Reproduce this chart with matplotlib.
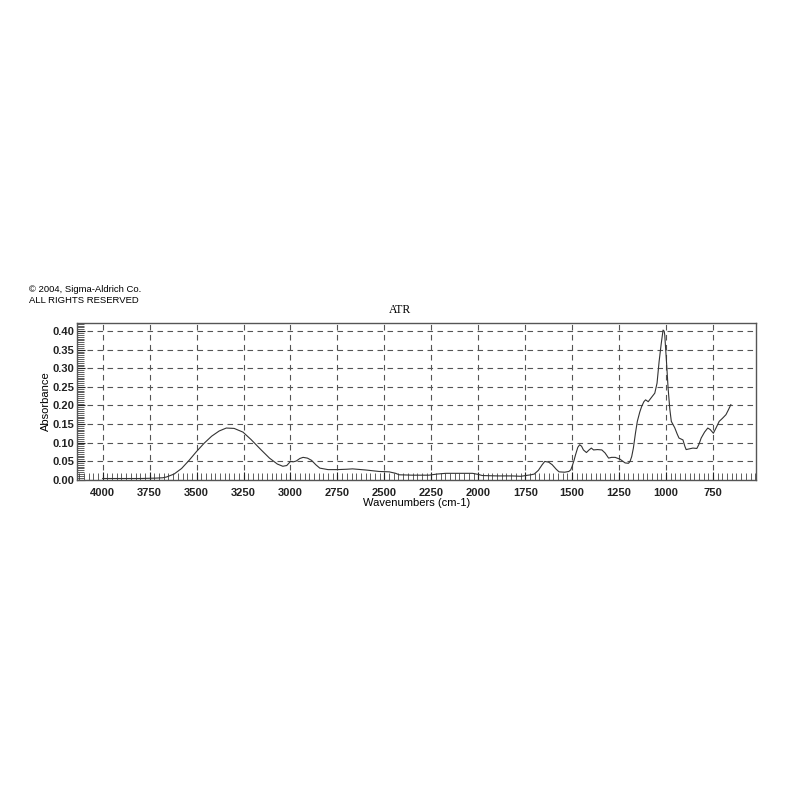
import matplotlib
matplotlib.use("Agg")
import matplotlib.pyplot as plt
from matplotlib.ticker import MultipleLocator, FormatStrFormatter

wavenumber = [4000, 3900, 3800, 3720, 3680, 3661, 3620, 3580, 3540, 3500, 3460, 3420, 3380,
              3342, 3300, 3253, 3210, 3160, 3112, 3070, 3041, 3020, 3000, 2985, 2970, 2950,
              2933, 2910, 2888, 2865, 2844, 2800, 2750, 2700, 2670, 2600, 2528, 2475, 2440,
              2421, 2350, 2262, 2220, 2173, 2100, 2031, 2000, 1978, 1900, 1819, 1773, 1748,
              1720, 1702, 1680, 1660, 1646, 1625, 1606, 1585, 1570, 1540, 1518, 1508, 1500,
              1490, 1482, 1470, 1460, 1450, 1440, 1424, 1410, 1398, 1386, 1365, 1342, 1325,
              1306, 1290, 1271, 1245, 1218, 1200, 1192, 1183, 1174, 1163, 1153, 1140, 1130,
              1118, 1109, 1095, 1080, 1060, 1048, 1037, 1026, 1016, 1010, 1007, 998, 989,
              980, 972, 954, 940, 931, 910, 900, 893, 875, 857, 836, 825, 813, 795, 778,
              765, 748, 735, 717, 700, 681, 668, 655]
absorbance = [0.003, 0.003, 0.003, 0.004, 0.005, 0.007, 0.015, 0.030, 0.052, 0.076, 0.098, 0.117,
              0.131, 0.139, 0.138, 0.128, 0.108, 0.082, 0.058, 0.042, 0.036, 0.038, 0.049, 0.048,
              0.050, 0.057, 0.060, 0.058, 0.052, 0.040, 0.031, 0.027, 0.027, 0.028, 0.029, 0.026,
              0.022, 0.021, 0.017, 0.013, 0.012, 0.012, 0.015, 0.017, 0.017, 0.017, 0.014, 0.011,
              0.010, 0.010, 0.009, 0.011, 0.013, 0.015, 0.025, 0.040, 0.049, 0.047, 0.040, 0.028,
              0.021, 0.020, 0.022, 0.026, 0.036, 0.052, 0.067, 0.087, 0.094, 0.090, 0.080, 0.073,
              0.080, 0.085, 0.080, 0.081, 0.080, 0.072, 0.058, 0.060, 0.060, 0.055, 0.045, 0.044,
              0.049, 0.062, 0.085, 0.125, 0.157, 0.182, 0.197, 0.210, 0.215, 0.210, 0.220, 0.233,
              0.260, 0.318, 0.365, 0.403, 0.400, 0.390, 0.320, 0.246, 0.190, 0.157, 0.140, 0.122,
              0.112, 0.107, 0.090, 0.081, 0.083, 0.085, 0.084, 0.095, 0.112, 0.128, 0.139, 0.135,
              0.125, 0.138, 0.157, 0.165, 0.175, 0.188, 0.202]

fig = plt.figure(figsize=(8, 8), dpi=100)
ax = fig.add_axes([0.096, 0.40, 0.849, 0.196])

ax.plot(wavenumber, absorbance, color="#333333", lw=0.8)

ax.set_xlim(4138, 521)
ax.set_ylim(-0.001, 0.4215)

ax.xaxis.set_major_locator(MultipleLocator(250))
ax.xaxis.set_minor_locator(MultipleLocator(25))
ax.yaxis.set_major_locator(MultipleLocator(0.05))
ax.yaxis.set_minor_locator(MultipleLocator(0.005))
ax.yaxis.set_major_formatter(FormatStrFormatter("%.2f"))

ax.grid(True, which="major", linestyle=(0, (5, 4)), color="#555555", lw=0.8)
ax.tick_params(axis="both", which="major", direction="in", length=6, width=0.8,
               labelsize=8, colors="#222222")
ax.tick_params(axis="x", which="major", pad=5.5)
ax.tick_params(axis="y", which="major", pad=2)
ax.tick_params(axis="both", which="minor", direction="in", length=5, width=0.6, colors="#444444")
for lab in ax.get_xticklabels() + ax.get_yticklabels():
    lab.set_family("Liberation Sans")
    lab.set_fontweight("bold")
for s in ax.spines.values():
    s.set_color("#555555")
    s.set_linewidth(1.0)

ax.set_xlabel("Wavenumbers (cm-1)", family="Liberation Sans", fontsize=8, labelpad=0.5)
ax.set_ylabel("Absorbance", family="Liberation Sans", fontsize=8, labelpad=1)
fig.text(0.5, 0.613, "ATR", family="Liberation Serif", fontsize=8.5, ha="center", va="center")
fig.text(0.036, 0.638, "© 2004, Sigma-Aldrich Co.", family="Liberation Sans", fontsize=6.8,
         va="center")
fig.text(0.036, 0.624, "ALL RIGHTS RESERVED", family="Liberation Sans", fontsize=6.8,
         va="center")

fig.savefig("out.png", dpi=100, facecolor="white")
